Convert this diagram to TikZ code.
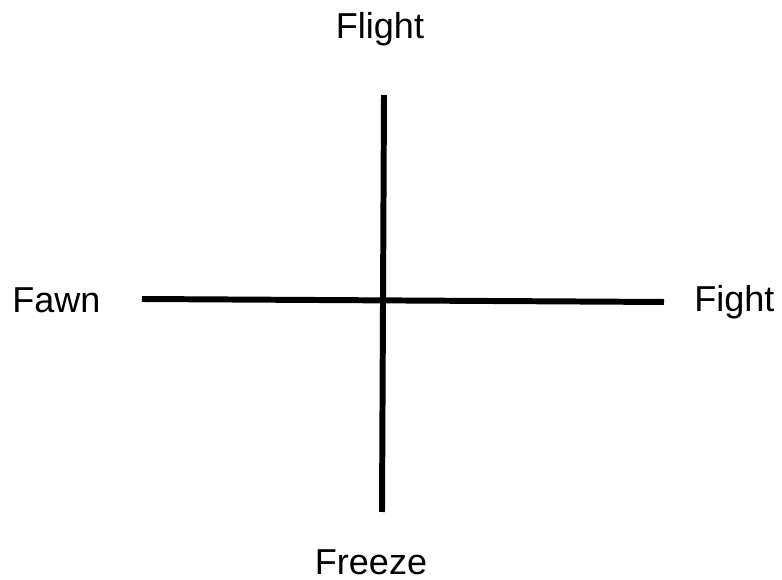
\documentclass[tikz,border=0pt]{standalone}
\usepackage{fontspec}
\setmainfont{Liberation Sans}
\begin{document}
\begin{tikzpicture}[x=0.02cm,y=-0.02cm,
    axis/.style={line width=3.4pt},
    lbl/.style={inner sep=0pt,font=\fontsize{20.5}{24}\selectfont}]
    % frame of the picture
    \useasboundingbox (0,0) rectangle (782,580);
    % ends of the two axes
    \coordinate (top) at (384,95);
    \coordinate (bottom) at (382,512);
    \coordinate (left) at (142,299);
    \coordinate (right) at (664,302);
    \draw[axis] (top) -- (bottom);
    \draw[axis] (left) -- (right);
    % labels
    \node[lbl,anchor=base] (flight) at (380,39) {Flight};
    \node[lbl,anchor=base] (freeze) at (371,575) {Freeze};
    \node[lbl,anchor=base west] (fawn) at (12,313) {Fawn};
    \node[lbl,anchor=base west] (fight) at (694,312) {Fight};
\end{tikzpicture}
\end{document}
